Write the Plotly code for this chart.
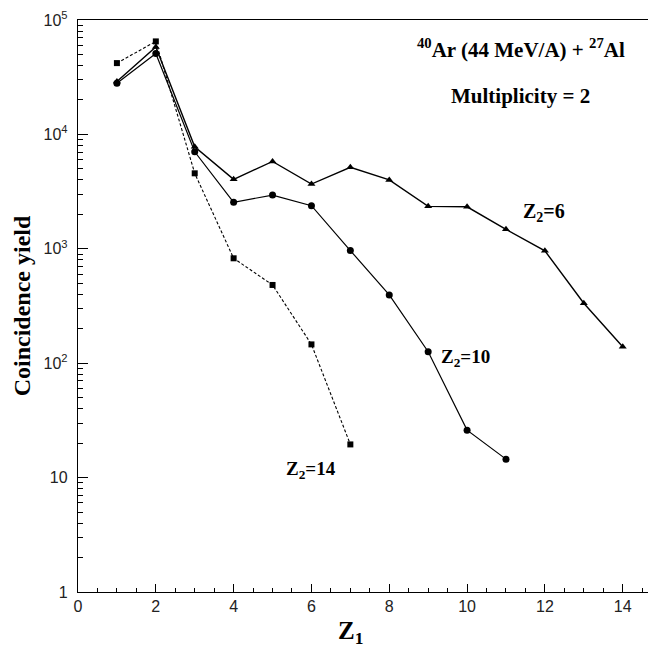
import plotly.graph_objects as go

# Fragment charge Z1 and coincidence yields for each partner charge Z2
z1_z6 = [1, 2, 3, 4, 5, 6, 7, 8, 9, 10, 11, 12, 13, 14]
yield_z6 = [29000, 58000, 7800, 4050, 5800, 3680, 5150, 4000, 2350, 2330, 1480, 960, 334, 139]

z1_z10 = [1, 2, 3, 4, 5, 6, 7, 8, 9, 10, 11]
yield_z10 = [28000, 51000, 7050, 2550, 2950, 2380, 965, 395, 126, 26, 14.5]

z1_z14 = [1, 2, 3, 4, 5, 6, 7]
yield_z14 = [42000, 65000, 4570, 826, 483, 146, 19.5]

y_tick_vals = [1, 10, 100, 1000, 10000, 100000]
y_tick_text = ["1", "10", "10<sup>2</sup>", "10<sup>3</sup>", "10<sup>4</sup>", "10<sup>5</sup>"]
y_minor_vals = [m * 10 ** d for d in range(0, 5) for m in range(2, 10)]

serif = "Liberation Serif"
sans = "Liberation Sans"

fig = go.Figure()

fig.add_trace(go.Scatter(
    x=z1_z6, y=yield_z6, mode="lines+markers",
    line=dict(color="black", width=1.4),
    marker=dict(symbol="triangle-up", size=7, color="black"),
    showlegend=False,
))
fig.add_trace(go.Scatter(
    x=z1_z10, y=yield_z10, mode="lines+markers",
    line=dict(color="black", width=1.2),
    marker=dict(symbol="circle", size=7, color="black"),
    showlegend=False,
))
fig.add_trace(go.Scatter(
    x=z1_z14, y=yield_z14, mode="lines+markers",
    line=dict(color="black", width=1.1, dash="3px,2px"),
    marker=dict(symbol="square", size=6, color="black"),
    showlegend=False,
))

# Reaction label and curve labels, placed in data coordinates (y in log10 units)
annotations = [
    dict(x=11.38, y=4.755, text="<b><sup>40</sup>Ar (44 MeV/A) + <sup>27</sup>Al</b>", size=21),
    dict(x=11.38, y=4.336, text="<b>Multiplicity = 2</b>", size=21),
    dict(x=11.97, y=3.32, text="<b>Z<sub>2</sub>=6</b>", size=20),
    dict(x=9.97, y=2.045, text="<b>Z<sub>2</sub>=10</b>", size=19),
    dict(x=6.0, y=1.066, text="<b>Z<sub>2</sub>=14</b>", size=19),
]
for a in annotations:
    fig.add_annotation(
        x=a["x"], y=a["y"], text=a["text"], xref="x", yref="y",
        showarrow=False, font=dict(family=serif, size=a["size"], color="black"),
        xanchor="center", yanchor="middle",
    )

# Axis titles
fig.add_annotation(
    x=350, y=-0.07, xref="x domain", yref="paper", text="<b>Z<sub>1</sub></b>",
    showarrow=False, font=dict(family=serif, size=25, color="black"),
    xanchor="center", yanchor="middle",
)
fig.update_annotations(selector=dict(text="<b>Z<sub>1</sub></b>"), x=(350 - 78) / 570)

fig.update_xaxes(
    range=[0, 14.65], tickmode="array", tickvals=[0, 2, 4, 6, 8, 10, 12, 14],
    ticks="inside", ticklen=8, tickwidth=1.2, tickcolor="black",
    showline=True, linecolor="black", linewidth=1.4, mirror=True,
    showgrid=False, zeroline=False,
    tickfont=dict(family=sans, size=16, color="#222"),
    minor=dict(dtick=0.5, ticks="inside", ticklen=4, tickcolor="black", showgrid=False),
)
fig.update_yaxes(
    type="log", range=[0, 5], tickmode="array",
    tickvals=y_tick_vals, ticktext=y_tick_text,
    ticks="inside", ticklen=10, tickwidth=1.2, tickcolor="black",
    showline=True, linecolor="black", linewidth=1.4,
    showgrid=False, zeroline=False,
    tickfont=dict(family=sans, size=16, color="#222"),
    ticklabelstandoff=6,
    minor=dict(tickmode="array", tickvals=y_minor_vals, ticks="inside", ticklen=5,
               tickcolor="black", showgrid=False),
    title=dict(text="<b>Coincidence yield</b>", font=dict(family=serif, size=24, color="black"), standoff=6),
)

fig.update_layout(
    width=652, height=649,
    margin=dict(l=78, r=4, t=20, b=57),
    plot_bgcolor="white", paper_bgcolor="white",
)

fig.write_html("out.html")
